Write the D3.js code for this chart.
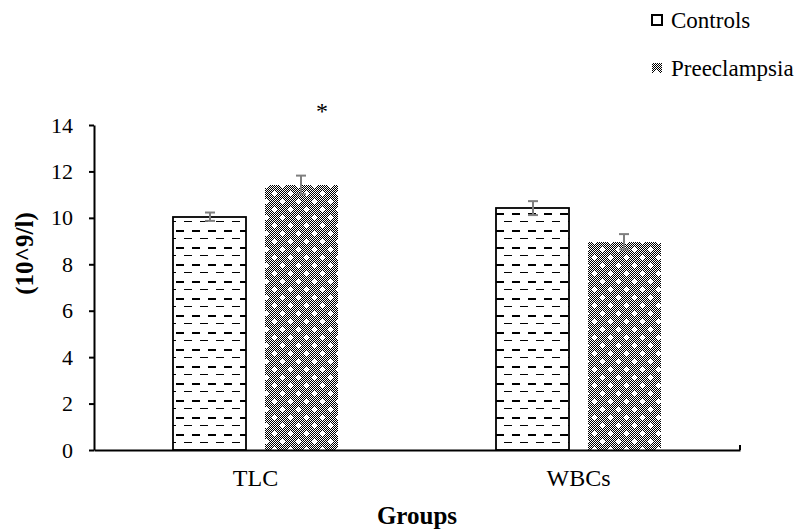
<!DOCTYPE html>
<html>
<head>
<meta charset="utf-8">
<script src="https://cdn.jsdelivr.net/npm/d3@7"></script>
<style>
  body { margin: 0; background: #fff; }
</style>
</head>
<body>
<div id="chart"></div>
<script>
// data
const groups = ['TLC', 'WBCs'];
const seriesNames = ['Controls', 'Preeclampsia'];
const controls = [10.05, 10.42];
const controlsErr = [0.18, 0.3];
const preeclampsia = [11.42, 8.97];
const preeclampsiaErr = [0.4, 0.33];
const significant = [false, true, false, false]; // asterisk per bar (group-major)
const yTicks = [0, 2, 4, 6, 8, 10, 12, 14];

const FONT = 'Liberation Serif';
const W = 801, H = 532;
const margin = {top: 125, right: 61, bottom: 82, left: 94};
const width = W - margin.left - margin.right;
const height = H - margin.top - margin.bottom;

const svg = d3.select('#chart').append('svg')
    .attr('width', W).attr('height', H)
    .attr('font-family', FONT);

// fill patterns
const defs = svg.append('defs');
const dash = defs.append('pattern')
    .attr('id', 'dash').attr('patternUnits', 'userSpaceOnUse')
    .attr('width', 16).attr('height', 17)
    .attr('shape-rendering', 'crispEdges');
dash.append('rect').attr('width', 16).attr('height', 17).attr('fill', '#fff');
dash.append('rect').attr('x', 2).attr('y', 3).attr('width', 8).attr('height', 2).attr('fill', '#000');
dash.append('rect').attr('x', 10).attr('y', 11).attr('width', 6).attr('height', 1).attr('fill', '#000');
dash.append('rect').attr('x', 0).attr('y', 11).attr('width', 2).attr('height', 1).attr('fill', '#000');

const dots = defs.append('pattern')
    .attr('id', 'dots').attr('patternUnits', 'userSpaceOnUse')
    .attr('width', 16).attr('height', 16)
    .attr('shape-rendering', 'crispEdges');
dots.append('rect').attr('width', 16).attr('height', 16).attr('fill', '#fff');
let checker = '';
for (let j = 0; j < 16; j++) {
    for (let i = j % 2; i < 16; i += 2) checker += `M${i},${j}h1v1h-1z`;
}
dots.append('path').attr('d', checker).attr('fill', '#000');
[[4, 4], [12, 12]].forEach(([cx, cy]) => {
    dots.append('rect').attr('x', cx - 1).attr('y', cy - 1).attr('width', 3).attr('height', 3).attr('fill', '#fff');
    dots.append('rect').attr('x', cx - 2).attr('y', cy).attr('width', 5).attr('height', 1).attr('fill', '#fff');
    dots.append('rect').attr('x', cx).attr('y', cy - 2).attr('width', 1).attr('height', 5).attr('fill', '#fff');
});

const g = svg.append('g').attr('transform', `translate(${margin.left},${margin.top})`);

const x0 = d3.scaleBand().domain(groups).range([0, width]).paddingInner(0).paddingOuter(0);
const x1 = d3.scaleBand().domain(seriesNames).range([79, x0.bandwidth() - 79]).paddingInner(0.2);
const y = d3.scaleLinear().domain([0, 14]).range([height, 0]);

const rows = [];
groups.forEach((grp, i) => {
    rows.push({grp, s: 'Controls', v: controls[i], e: controlsErr[i]});
    rows.push({grp, s: 'Preeclampsia', v: preeclampsia[i], e: preeclampsiaErr[i]});
});
rows.forEach((d, i) => d.sig = significant[i]);
const cx = d => Math.round(x0(d.grp) + x1(d.s) + x1.bandwidth() / 2);

// bars
g.selectAll('.bar').data(rows).enter().append('rect')
    .attr('x', d => Math.round(x0(d.grp) + x1(d.s)))
    .attr('y', d => Math.round(y(d.v)))
    .attr('width', Math.round(x1.bandwidth()))
    .attr('height', d => height - Math.round(y(d.v)))
    .attr('fill', d => d.s === 'Controls' ? 'url(#dash)' : 'url(#dots)')
    .attr('stroke', d => d.s === 'Controls' ? '#000' : 'none')
    .attr('stroke-width', 1.8);

// error bars
const eb = g.selectAll('.err').data(rows).enter().append('g')
    .attr('stroke', '#7f7f7f').attr('stroke-width', 2);
eb.append('line')
    .attr('x1', cx).attr('x2', cx)
    .attr('y1', d => y(d.v + d.e)).attr('y2', d => y(d.v - d.e));
[1, -1].forEach(sgn => {
    eb.append('line')
        .attr('x1', d => cx(d) - 5).attr('x2', d => cx(d) + 5)
        .attr('y1', d => y(d.v + sgn * d.e)).attr('y2', d => y(d.v + sgn * d.e));
});

// significance marker
g.selectAll('.sig').data(rows.filter(d => d.sig)).enter().append('text')
    .attr('x', d => cx(d) + 21)
    .attr('y', d => y(d.v + d.e) - 57)
    .attr('text-anchor', 'middle')
    .attr('font-size', 24)
    .text('*');

// axes
const yAxis = g.append('g')
    .call(d3.axisLeft(y).tickValues(yTicks).tickSize(5).tickSizeOuter(0).tickPadding(16))
    .attr('font-family', FONT).attr('font-size', 22);
yAxis.select('.domain').attr('stroke-width', 2);
yAxis.selectAll('.tick line').attr('stroke-width', 2);
yAxis.selectAll('text').attr('fill', '#000');

const xAxis = g.append('g').attr('transform', `translate(0,${height})`)
    .call(d3.axisBottom(x0).tickSize(0).tickPadding(19))
    .attr('font-family', FONT).attr('font-size', 24);
xAxis.select('.domain').attr('stroke-width', 2);
xAxis.selectAll('text').attr('fill', '#000');
g.append('line')
    .attr('x1', width).attr('x2', width)
    .attr('y1', height).attr('y2', height - 5)
    .attr('stroke', '#000').attr('stroke-width', 2);

// axis titles
svg.append('text')
    .attr('transform', `translate(33,${margin.top + height / 2 - 34}) rotate(-90)`)
    .attr('text-anchor', 'middle')
    .attr('font-size', 25).attr('font-weight', 'bold')
    .text('(10^9/l)');
svg.append('text')
    .attr('x', margin.left + width / 2).attr('y', 524)
    .attr('text-anchor', 'middle')
    .attr('font-size', 25).attr('font-weight', 'bold')
    .text('Groups');

// legend
const legend = svg.append('g').attr('transform', 'translate(652,0)');
seriesNames.forEach((s, i) => {
    const row = legend.append('g').attr('transform', `translate(0,${20 + i * 48})`);
    row.append('rect')
        .attr('x', 0).attr('y', -5).attr('width', 10).attr('height', 10)
        .attr('fill', i === 0 ? '#fff' : 'url(#dots)')
        .attr('stroke', i === 0 ? '#000' : 'none')
        .attr('stroke-width', 2);
    row.append('text')
        .attr('x', 19).attr('y', 8)
        .attr('font-size', 23)
        .text(s);
});
</script>
</body>
</html>
